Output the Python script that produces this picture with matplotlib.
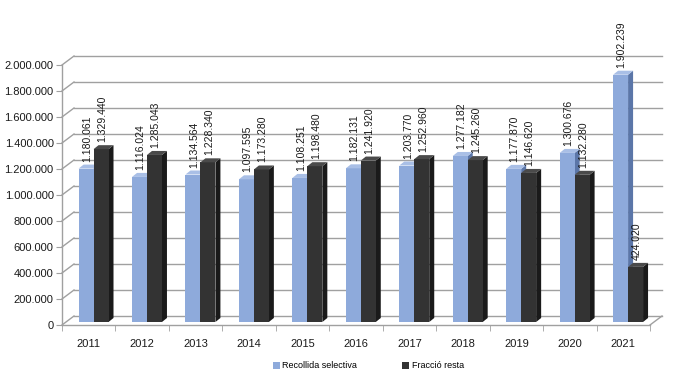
import matplotlib
matplotlib.use("Agg")
import matplotlib.pyplot as plt
from matplotlib.patches import Polygon, Patch
import numpy as np

years = ["2011", "2012", "2013", "2014", "2015", "2016", "2017", "2018", "2019", "2020", "2021"]
recollida = [1180061, 1116024, 1134564, 1097595, 1108251, 1182131, 1203770, 1277182, 1177870, 1300676, 1902239]
fraccio = [1329440, 1285043, 1228340, 1173280, 1198480, 1241920, 1252960, 1245260, 1146620, 1132280, 424020]
series_names = ["Recollida selectiva", "Fracció resta"]
yticks = [0, 200000, 400000, 600000, 800000, 1000000, 1200000, 1400000, 1600000, 1800000, 2000000]

plt.rcParams['font.family'] = ['Liberation Sans', 'DejaVu Sans']

W, H = 675, 385
fig = plt.figure(figsize=(W / 100, H / 100), dpi=100)
ax_l, ax_r, ax_b, ax_t = 62, 650, 325, 65
ax = fig.add_axes([ax_l / W, (H - ax_b) / H, (ax_r - ax_l) / W, (ax_b - ax_t) / H])
n = len(years)
ax.set_xlim(-0.5, n - 0.5)
ax.set_ylim(0, 2000000)
px_x = (n) / (ax_r - ax_l)          # data units per px (x)
px_y = 2000000 / (ax_b - ax_t)      # data units per px (y)

# wall offset
wdx, wdy = 12 * px_x, 9 * px_y
grid_c = "#a0a0a0"
for v in yticks:
    ax.plot([-0.5, -0.5 + wdx], [v, v + wdy], color=grid_c, lw=1.0, clip_on=False, zorder=1)
    ax.plot([-0.5 + wdx, n - 0.5 + wdx], [v + wdy, v + wdy], color=grid_c, lw=1.0, clip_on=False, zorder=1)
# floor
ax.plot([-0.5, n - 0.5], [0, 0], color=grid_c, lw=1.0, clip_on=False, zorder=1)
ax.plot([n - 0.5, n - 0.5 + wdx], [0, wdy], color=grid_c, lw=1.0, clip_on=False, zorder=1)

# bars
bw = 0.28
off = 0.09
base = 3 * px_y
bdx, bdy = 5 * px_x, 4 * px_y
x = np.arange(n)
styles = [
    dict(front="#8eaadb", side="#5b76a8", top="#a9bfe6"),
    dict(front="#333333", side="#1a1a1a", top="#4a4a4a"),
]
for si, (vals, st) in enumerate(zip([recollida, fraccio], styles)):
    xs = x + off + (si - 1) * bw + bw / 2
    bars = ax.bar(xs, vals, width=bw, bottom=base, color=st["front"], zorder=3 + si * 2,
                  linewidth=0, clip_on=False)
    for b, v in zip(bars, vals):
        x0 = b.get_x()
        x1 = x0 + b.get_width()
        t = v + base
        side = Polygon([(x1, base), (x1 + bdx, base + bdy), (x1 + bdx, t + bdy), (x1, t)], closed=True,
                       facecolor=st["side"], edgecolor="none", zorder=2 + si * 2, clip_on=False)
        top = Polygon([(x0, t), (x1, t), (x1 + bdx, t + bdy), (x0 + bdx, t + bdy)], closed=True,
                      facecolor=st["top"], edgecolor="none", zorder=3 + si * 2, clip_on=False)
        ax.add_patch(side)
        ax.add_patch(top)
        lbl = f"{v:,}".replace(",", ".")
        ax.text(x0 + b.get_width() / 2 + 1 * px_x, t + bdy + 3 * px_y, lbl, rotation=90,
                ha="center", va="bottom", fontsize=7.5, color="#1a1a1a", zorder=10, clip_on=False)

# axes styling
for s in ["top", "right", "bottom"]:
    ax.spines[s].set_visible(False)
ax.spines["left"].set_color(grid_c)
ax.spines["left"].set_linewidth(1.0)
ax.set_yticks(yticks)
ax.set_yticklabels([f"{v:,}".replace(",", ".") for v in yticks], fontsize=8, color="#1a1a1a")
ax.tick_params(axis="y", length=4, color=grid_c, pad=2)
ax.set_xticks(x)
ax.set_xticklabels(years, fontsize=8, color="#1a1a1a")
ax.set_xticks(np.arange(-0.5, n, 1.0), minor=True)
ax.tick_params(axis="x", which="major", length=0, pad=10)
ax.tick_params(axis="x", which="minor", length=4, color=grid_c)

handles = [Patch(facecolor=styles[0]["front"], label=series_names[0]),
           Patch(facecolor=styles[1]["front"], label=series_names[1])]
fig.legend(handles=handles, loc="center", bbox_to_anchor=(0.546, 1 - 366 / H), ncol=2,
           frameon=False, fontsize=6.5, handlelength=0.7, handleheight=0.7,
           handletextpad=0.3, columnspacing=5)

fig.savefig("out.png", dpi=100)
